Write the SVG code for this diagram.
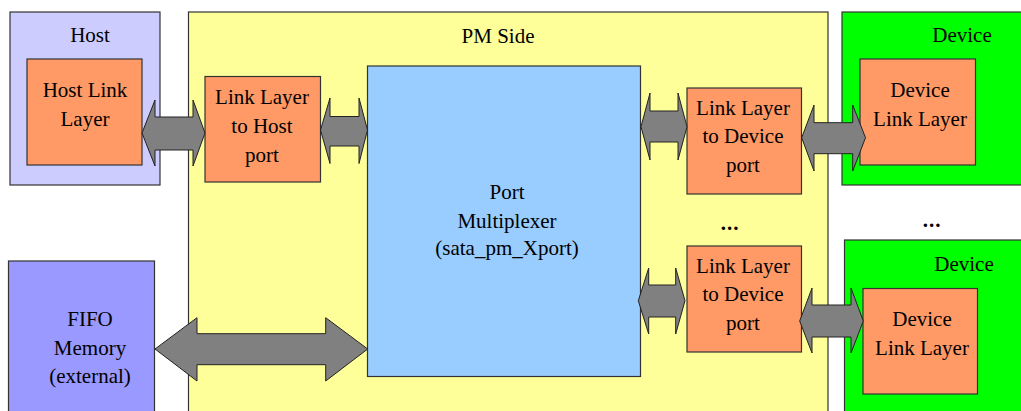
<svg xmlns="http://www.w3.org/2000/svg" width="1021" height="411" viewBox="0 0 1021 411" font-family="'Liberation Serif', 'DejaVu Serif', 'Times New Roman', serif">
<style>
text{font-family:'Liberation Serif','DejaVu Serif','Times New Roman',serif;font-size:21px;fill:#000;text-anchor:middle}
.box{stroke:#333;stroke-width:1.2}
.host{fill:#CCCCFF}
.pm{fill:#FFFF99}
.dev{fill:#00FF00}
.org{fill:#FF9966}
.mux{fill:#99CCFF}
.fifo{fill:#9999FF}
.arr{fill:#808080;stroke:#222;stroke-width:1}
</style>
<rect width="1021" height="411" fill="#fff"/>
<g id="host">
<rect class="box host" x="10" y="12" width="150" height="173"/>
<text x="90" y="42">Host</text>
</g>
<g id="pm-side">
<rect class="box pm" x="188.5" y="12" width="639.5" height="410"/>
<text x="498" y="43">PM Side</text>
</g>
<g id="device-top">
<rect class="box dev" x="842" y="12" width="190" height="173"/>
<text x="962" y="42">Device</text>
</g>
<g id="device-bottom">
<rect class="box dev" x="844.5" y="240" width="190" height="190"/>
<text x="964" y="271">Device</text>
</g>
<g id="fifo">
<rect class="box fifo" x="8.5" y="261" width="146" height="170"/>
<text x="90" y="326">FIFO</text>
<text x="90" y="355">Memory</text>
<text x="90" y="383">(external)</text>
</g>
<g id="host-link-layer">
<rect class="box org" x="27" y="59" width="115" height="106"/>
<text x="85" y="97">Host Link</text>
<text x="85" y="126">Layer</text>
</g>
<g id="link-host-port">
<rect class="box org" x="205" y="76.5" width="115.5" height="105.5"/>
<text x="262" y="104">Link Layer</text>
<text x="262" y="133">to Host</text>
<text x="262" y="162">port</text>
</g>
<g id="port-mux">
<rect class="box mux" x="367.5" y="66" width="273" height="310.5"/>
<text x="507" y="199">Port</text>
<text x="507" y="228">Multiplexer</text>
<text x="507" y="255">(sata_pm_Xport)</text>
</g>
<g id="link-device-port-top">
<rect class="box org" x="687" y="88" width="114.5" height="106"/>
<text x="743" y="115">Link Layer</text>
<text x="743" y="143">to Device</text>
<text x="743" y="172">port</text>
</g>
<g id="link-device-port-bottom">
<rect class="box org" x="687" y="246" width="114.5" height="106"/>
<text x="743" y="273">Link Layer</text>
<text x="743" y="301">to Device</text>
<text x="743" y="330">port</text>
</g>
<g id="device-link-layer-top">
<rect class="box org" x="860" y="59" width="115.5" height="106"/>
<text x="920" y="97">Device</text>
<text x="920" y="126">Link Layer</text>
</g>
<g id="device-link-layer-bottom">
<rect class="box org" x="863" y="288.5" width="114.5" height="105.5"/>
<text x="922" y="326">Device</text>
<text x="922" y="355">Link Layer</text>
</g>
<g id="ellipsis">
<text x="730" y="230" style="font-weight:bold;letter-spacing:1px">...</text>
<text x="932" y="227" style="font-weight:bold;letter-spacing:1px">...</text>
</g>
<g id="connectors">
<polygon class="arr" points="142,133 155,100 155,117 193,117 193,100 205,133 193,166 193,150 155,150 155,166"/>
<polygon class="arr" points="320.5,130 330,98 330,116.5 359,116.5 359,98 367.5,130 359,163.5 359,146 330,146 330,163.5"/>
<polygon class="arr" points="641,126.7 650,93 650,111 678,111 678,93 687,126.7 678,160 678,142 650,142 650,160"/>
<polygon class="arr" points="801.7,137.7 814,105 814,122.7 852.7,122.7 852.7,105 865.5,137.7 852.7,171 852.7,153.7 814,153.7 814,171"/>
<polygon class="arr" points="638.3,300.7 648.7,268 648.7,285 675.7,285 675.7,268 685,300.7 675.7,334 675.7,317 648.7,317 648.7,334"/>
<polygon class="arr" points="799.7,321 812,288 812,305 851,305 851,288 863.3,321 851,353 851,337 812,337 812,353"/>
<polygon class="arr" points="155,349 197,317.7 197,333.7 325.7,333.7 325.7,317.7 367.7,349 325.7,381 325.7,364.7 197,364.7 197,381"/>
</g>
</svg>
